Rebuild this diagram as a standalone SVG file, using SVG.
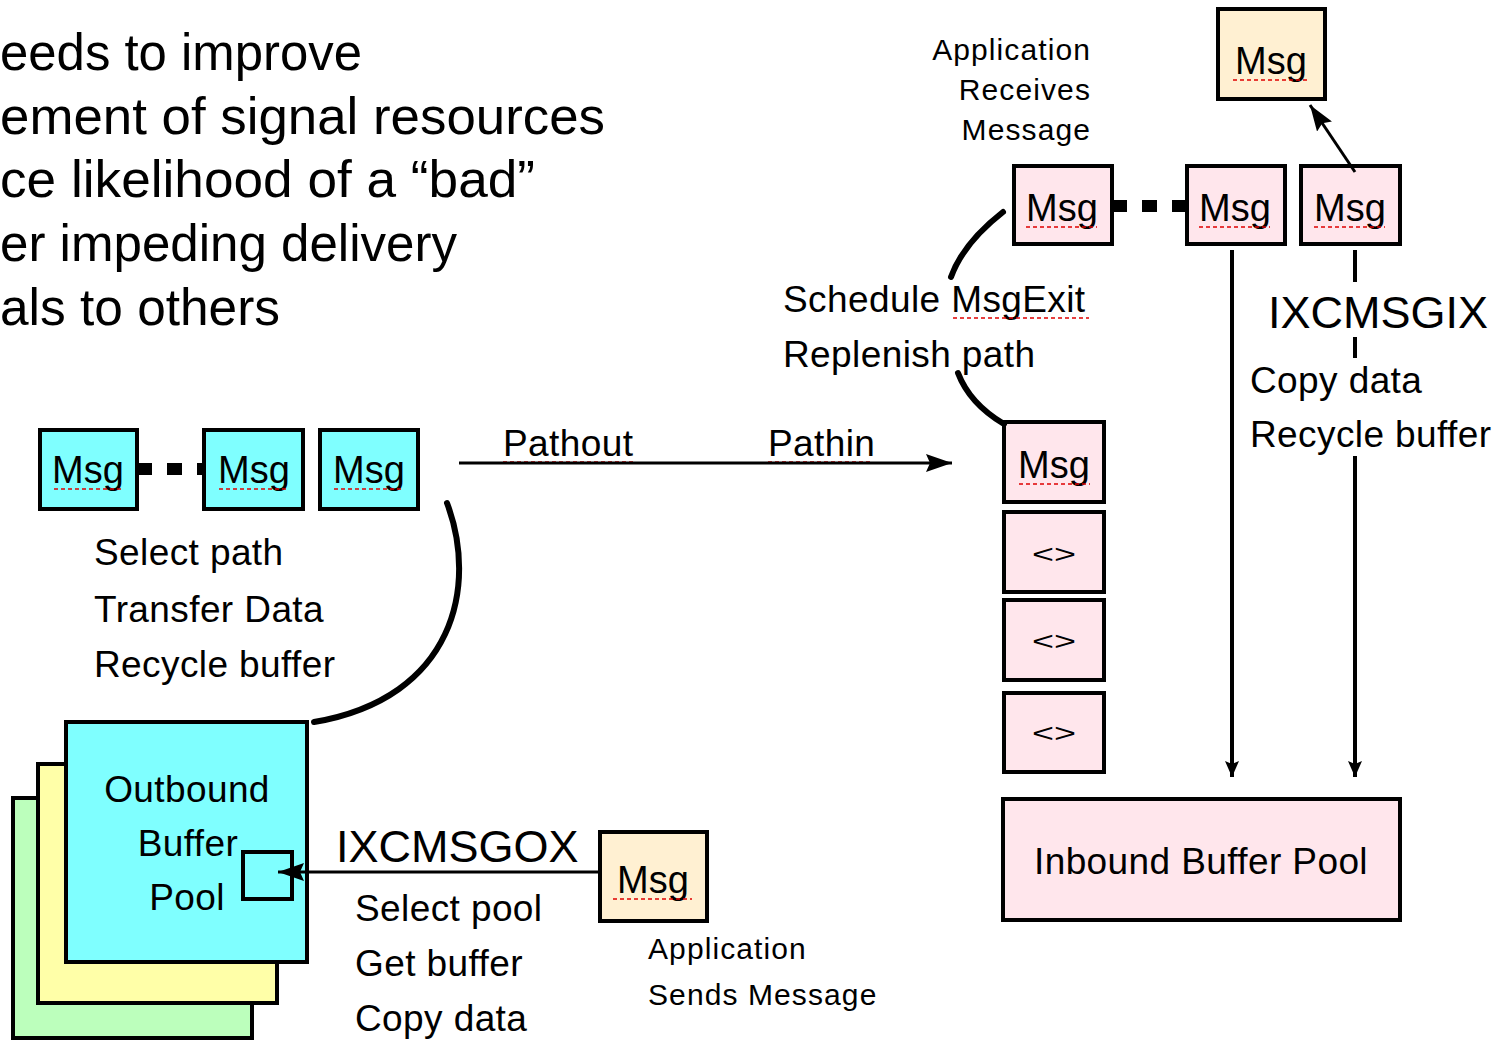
<svg xmlns="http://www.w3.org/2000/svg" width="1508" height="1041" viewBox="0 0 1508 1041">
  <defs>
    <style>
      text { font-family: "Liberation Sans", Arial, sans-serif; fill: #000; }
      .title { font-size: 52px; }
      .lbl { font-size: 37px; letter-spacing: 0.4px; }
      .small { font-size: 30px; letter-spacing: 1.1px; }
      .code { font-size: 45px; }
      .msg { font-size: 38px; text-anchor: middle; }
      .box { stroke: #000; stroke-width: 4; }
      .shadow { fill: #9a9a9a; }
      .cyan { fill: #7fffff; }
      .pink { fill: #ffe6ec; }
      .beige { fill: #fff0d2; }
      .yellow { fill: #ffffa8; }
      .green { fill: #bcffbc; }
      .squig { fill: none; stroke: #e00000; stroke-width: 1.6; stroke-dasharray: 4 3; }
      .chain { stroke: #000; stroke-width: 12; stroke-dasharray: 15 15; fill: none; }
      .flow { stroke: #000; stroke-width: 3; fill: none; }
      .drop { stroke: #000; stroke-width: 4; fill: none; }
      .swoop { stroke: #000; stroke-width: 6; fill: none; stroke-linecap: round; }
    </style>
    <marker id="headL" viewBox="0 0 26 18" refX="26" refY="9" markerWidth="26" markerHeight="18" markerUnits="userSpaceOnUse" orient="auto">
      <path d="M0 0 L26 9 L0 18 L4 9 Z" fill="#000"/>
    </marker>
    <marker id="headS" viewBox="0 0 16 14" refX="16" refY="7" markerWidth="16" markerHeight="14" markerUnits="userSpaceOnUse" orient="auto">
      <path d="M0 0 L16 7 L0 14 L3 7 Z" fill="#000"/>
    </marker>
  </defs>

  <!-- heading text (left edge runs off the sheet) -->
  <g id="heading">
    <text class="title" x="0" y="70" textLength="362" lengthAdjust="spacingAndGlyphs">eeds to improve</text>
    <text class="title" x="0" y="134" textLength="605" lengthAdjust="spacingAndGlyphs">ement of signal resources</text>
    <text class="title" x="0" y="197" textLength="535" lengthAdjust="spacingAndGlyphs">ce likelihood of a “bad”</text>
    <text class="title" x="0" y="261" textLength="457" lengthAdjust="spacingAndGlyphs">er impeding delivery</text>
    <text class="title" x="0" y="325" textLength="280" lengthAdjust="spacingAndGlyphs">als to others</text>
  </g>

  <!-- outbound side messages -->
  <g id="out-msg-1">
    <rect class="shadow" x="42" y="432" width="97" height="79"/>
    <rect class="box cyan" x="40" y="430" width="97" height="79"/>
    <text class="msg" x="88" y="483">Msg</text>
    <path class="squig" d="M54 489 H124"/>
  </g>
  <g id="out-msg-2">
    <rect class="shadow" x="206" y="432" width="99" height="79"/>
    <rect class="box cyan" x="204" y="430" width="99" height="79"/>
    <text class="msg" x="254" y="483">Msg</text>
    <path class="squig" d="M219 489 H289"/>
  </g>
  <g id="out-msg-3">
    <rect class="shadow" x="322" y="432" width="98" height="79"/>
    <rect class="box cyan" x="320" y="430" width="98" height="79"/>
    <text class="msg" x="369" y="483">Msg</text>
    <path class="squig" d="M334 489 H404"/>
  </g>

  <g id="out-steps">
    <text class="lbl" x="94" y="565">Select path</text>
    <text class="lbl" x="94" y="622">Transfer Data</text>
    <text class="lbl" x="94" y="677">Recycle buffer</text>
  </g>

  <g id="path-labels">
    <text class="lbl" x="503" y="456">Pathout</text>
    <path class="squig" d="M503 462 H634"/>
    <text class="lbl" x="768" y="456">Pathin</text>
    <path class="squig" d="M768 462 H873"/>
  </g>

  <!-- outbound buffer pools (stacked) -->
  <g id="outbound-pool">
    <rect class="box green" x="13" y="798" width="239" height="240"/>
    <rect class="box yellow" x="38" y="764" width="239" height="239"/>
    <rect class="box cyan" x="66" y="722" width="241" height="240"/>
    <text class="lbl" x="187" y="802" text-anchor="middle">Outbound</text>
    <text class="lbl" x="188" y="856" text-anchor="middle">Buffer</text>
    <text class="lbl" x="187" y="910" text-anchor="middle">Pool</text>
    <rect class="box" x="243" y="852" width="49" height="47" fill="none" stroke-width="3"/>
  </g>

  <g id="ixcmsgox">
    <text class="code" x="336" y="862">IXCMSGOX</text>
    <text class="lbl" x="355" y="921">Select pool</text>
    <text class="lbl" x="355" y="976">Get buffer</text>
    <text class="lbl" x="355" y="1031">Copy data</text>
  </g>

  <g id="send-msg">
    <rect class="shadow" x="602" y="834" width="107" height="89"/>
    <rect class="box beige" x="600" y="832" width="107" height="89"/>
    <text class="msg" x="653" y="893">Msg</text>
    <path class="squig" d="M613 899 H692"/>
    <text class="small" x="648" y="959">Application</text>
    <text class="small" x="648" y="1005">Sends Message</text>
  </g>

  <!-- inbound side -->
  <g id="recv-msg">
    <rect class="shadow" x="1220" y="11" width="107" height="90"/>
    <rect class="box beige" x="1218" y="9" width="107" height="90"/>
    <text class="msg" x="1271" y="74">Msg</text>
    <path class="squig" d="M1233 80 H1310"/>
    <text class="small" x="1091" y="60" text-anchor="end">Application</text>
    <text class="small" x="1091" y="100" text-anchor="end">Receives</text>
    <text class="small" x="1091" y="140" text-anchor="end">Message</text>
  </g>

  <g id="in-msg-1">
    <rect class="shadow" x="1016" y="168" width="98" height="78"/>
    <rect class="box pink" x="1014" y="166" width="98" height="78"/>
    <text class="msg" x="1062" y="221">Msg</text>
    <path class="squig" d="M1026 227 H1097"/>
  </g>
  <g id="in-msg-2">
    <rect class="shadow" x="1189" y="168" width="98" height="78"/>
    <rect class="box pink" x="1187" y="166" width="98" height="78"/>
    <text class="msg" x="1235" y="221">Msg</text>
    <path class="squig" d="M1199 227 H1270"/>
  </g>
  <g id="in-msg-3">
    <rect class="shadow" x="1303" y="168" width="99" height="78"/>
    <rect class="box pink" x="1301" y="166" width="99" height="78"/>
    <text class="msg" x="1350" y="221">Msg</text>
    <path class="squig" d="M1314 227 H1385"/>
  </g>

  <g id="schedule">
    <text class="lbl" x="783" y="312">Schedule MsgExit</text>
    <path class="squig" d="M953 318 H1089"/>
    <text class="lbl" x="783" y="367">Replenish path</text>
  </g>

  <g id="ixcmsgix">
    <text class="code" x="1268" y="328">IXCMSGIX</text>
    <text class="lbl" x="1250" y="393">Copy data</text>
    <text class="lbl" x="1250" y="447">Recycle buffer</text>
  </g>

  <!-- inbound path slots -->
  <g id="slot-msg">
    <rect class="shadow" x="1006" y="424" width="100" height="80"/>
    <rect class="box pink" x="1004" y="422" width="100" height="80"/>
    <text class="msg" x="1054" y="478">Msg</text>
    <path class="squig" d="M1019 484 H1090"/>
  </g>
  <g id="slot-1">
    <rect class="shadow" x="1006" y="514" width="100" height="80"/>
    <rect class="box pink" x="1004" y="512" width="100" height="80"/>
    <text x="1032" y="563" font-size="26" textLength="44" lengthAdjust="spacingAndGlyphs">&lt;&gt;</text>
  </g>
  <g id="slot-2">
    <rect class="shadow" x="1006" y="602" width="100" height="80"/>
    <rect class="box pink" x="1004" y="600" width="100" height="80"/>
    <text x="1032" y="650" font-size="26" textLength="44" lengthAdjust="spacingAndGlyphs">&lt;&gt;</text>
  </g>
  <g id="slot-3">
    <rect class="shadow" x="1006" y="695" width="100" height="79"/>
    <rect class="box pink" x="1004" y="693" width="100" height="79"/>
    <text x="1032" y="742" font-size="26" textLength="44" lengthAdjust="spacingAndGlyphs">&lt;&gt;</text>
  </g>

  <g id="inbound-pool">
    <rect class="box pink" x="1003" y="799" width="397" height="121"/>
    <text class="lbl" x="1201" y="874" text-anchor="middle">Inbound Buffer Pool</text>
  </g>

  <!-- connectors -->
  <g id="connectors">
    <!-- chained messages -->
    <line class="chain" x1="137" y1="469" x2="204" y2="469"/>
    <line class="chain" x1="1112" y1="206" x2="1187" y2="206"/>
    <!-- path out / path in -->
    <line class="flow" x1="459" y1="463" x2="952" y2="463" marker-end="url(#headL)"/>
    <!-- outbound return swoop -->
    <path class="swoop" d="M447 503 C478 585 455 698 314 722"/>
    <!-- schedule / replenish swoop, broken around its labels -->
    <path class="swoop" d="M1003 212 C980 230 960 252 951 277"/>
    <path class="swoop" d="M958 373 C966 394 982 411 1004 424"/>
    <!-- send to outbound pool -->
    <line class="flow" x1="600" y1="872" x2="278" y2="872" marker-end="url(#headL)"/>
    <!-- receive to application -->
    <line class="flow" x1="1355" y1="172" x2="1310" y2="105" marker-end="url(#headL)"/>
    <!-- recycle to inbound pool -->
    <line class="drop" x1="1232" y1="250" x2="1232" y2="777" marker-end="url(#headS)"/>
    <line class="drop" x1="1355" y1="250" x2="1355" y2="282"/>
    <line class="drop" x1="1355" y1="337" x2="1355" y2="358"/>
    <line class="drop" x1="1355" y1="456" x2="1355" y2="777" marker-end="url(#headS)"/>
  </g>
</svg>
